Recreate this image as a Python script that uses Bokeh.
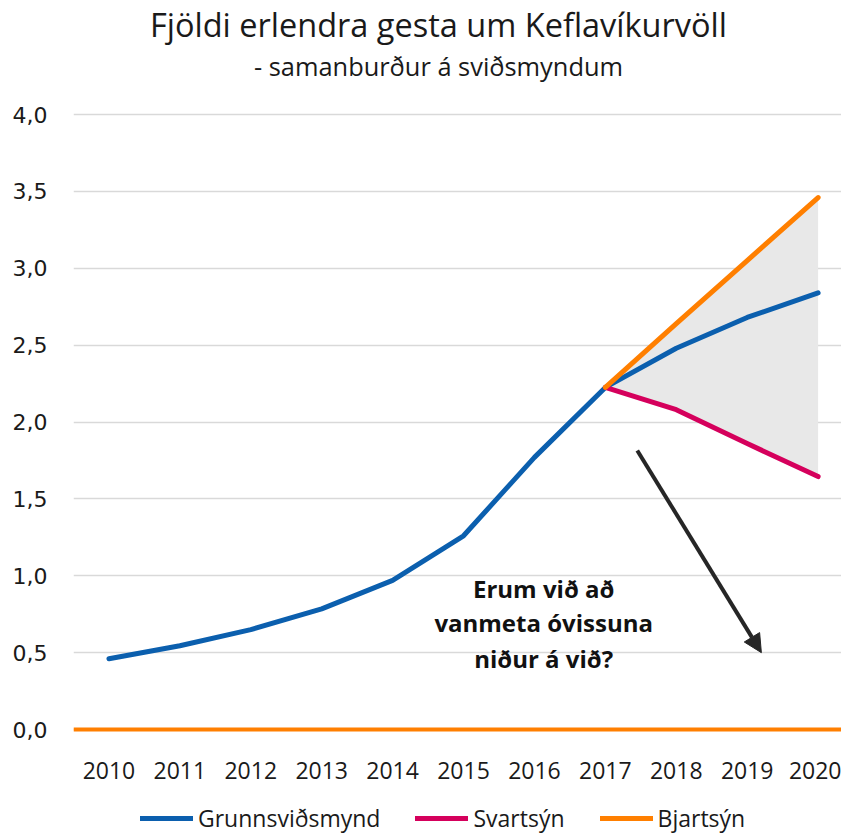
from bokeh.plotting import figure
from bokeh.layouts import column
from bokeh.models import (Range1d, FixedTicker, Span, Label, Legend, LegendItem, Arrow, NormalHead)
from bokeh.core.properties import value
from bokeh.embed import file_html
from bokeh.resources import INLINE

# ---- data ----
years = [2010, 2011, 2012, 2013, 2014, 2015, 2016, 2017, 2018, 2019, 2020]
grunn = [0.46, 0.545, 0.65, 0.785, 0.97, 1.26, 1.77, 2.225, 2.48, 2.68, 2.84]
scen_years = [2017, 2018, 2019, 2020]
svart = [2.225, 2.08, 1.86, 1.645]
bjart = [2.225, 2.64, 3.05, 3.46]
y_ticks = [0.0, 0.5, 1.0, 1.5, 2.0, 2.5, 3.0, 3.5, 4.0]
y_tick_labels = ["0,0", "0,5", "1,0", "1,5", "2,0", "2,5", "3,0", "3,5", "4,0"]
x_tick_labels = [str(y) for y in years]
series_names = ["Grunnsviðsmynd", "Svartsýn", "Bjartsýn"]
title_text = "Fjöldi erlendra gesta um Keflavíkurvöll"
subtitle_text = "- samanburður á sviðsmyndum"
note_lines = ["Erum við að", "vanmeta óvissuna", "niður á við?"]
note_x = 2016.13
note_y = [0.915, 0.695, 0.462]
arrow_start = (2017.45, 1.815)
arrow_end = (2019.2, 0.50)

BLUE = "#0B5FAE"
PINK = "#D5005C"
ORANGE = "#FF7F00"
COLORS = [BLUE, PINK, ORANGE]
FONT = "Open Sans"

p = figure(width=841, height=795,
           x_range=Range1d(2009.5, 2020.33), y_range=Range1d(-0.039, 4.7415),
           min_border_left=73, min_border_right=0, min_border_top=0, min_border_bottom=60,
           output_backend="svg", toolbar_location=None)
p.outline_line_color = None
p.background_fill_color = "white"
p.border_fill_color = "white"

p.xgrid.grid_line_color = None
p.ygrid.grid_line_color = "#D9D9D9"
p.ygrid.grid_line_width = 1.5

p.yaxis.ticker = FixedTicker(ticks=y_ticks)
p.yaxis.major_label_overrides = {t: l for t, l in zip(y_ticks, y_tick_labels)}
p.xaxis.ticker = FixedTicker(ticks=years)
p.xaxis.major_label_overrides = {y: l for y, l in zip(years, x_tick_labels)}
for ax in (p.xaxis, p.yaxis):
    ax.axis_line_color = None
    ax.major_tick_line_color = None
    ax.minor_tick_line_color = None
    ax.major_label_text_color = "#1A1A1A"
p.yaxis.major_label_text_font = "DejaVu Sans"
p.yaxis.major_label_text_font_size = "22px"
p.yaxis.major_label_standoff = 20
p.xaxis.major_label_text_font = FONT
p.xaxis.major_label_text_font_size = "23px"
p.xaxis.major_label_standoff = 20

# shaded uncertainty band
p.varea(x=scen_years, y1=svart, y2=bjart, fill_color="#E8E8E8")

# zero line (orange)
p.add_layout(Span(location=0, dimension="width", line_color=ORANGE, line_width=4))

p.line(years, grunn, line_color=BLUE, line_width=5, line_cap="round", line_join="round")
p.line(scen_years, svart, line_color=PINK, line_width=5, line_cap="round", line_join="round")
p.line(scen_years, bjart, line_color=ORANGE, line_width=5, line_cap="round", line_join="round")

# arrow
p.add_layout(Arrow(x_start=arrow_start[0], y_start=arrow_start[1], x_end=arrow_end[0], y_end=arrow_end[1],
                   line_color="#262626", line_width=4,
                   end=NormalHead(size=18, fill_color="#262626", line_color="#262626")))

# annotation text
p.text(x=[note_x] * 3, y=note_y, text=note_lines, text_align="center", text_baseline="middle",
       text_font=value(FONT), text_font_style="bold", text_font_size="24px", text_color="#111111")

# titles (inside the frame's blank top strip)
p.add_layout(Label(x=365, y=711, x_units="screen", y_units="screen", text=title_text,
                   text_align="center", text_baseline="middle", text_font=FONT,
                   text_font_size="32.5px", text_color="#1A1A1A"))
p.add_layout(Label(x=365, y=670, x_units="screen", y_units="screen", text=subtitle_text,
                   text_align="center", text_baseline="middle", text_font=FONT,
                   text_font_size="25.4px", text_color="#1A1A1A"))

# legend strip below the chart (proxy lines lie outside its visible range)
lg = figure(width=841, height=38, x_range=Range1d(0, 1), y_range=Range1d(0, 1),
            min_border_left=0, min_border_right=0, min_border_top=0, min_border_bottom=0,
            x_axis_location=None, y_axis_location=None,
            output_backend="svg", toolbar_location=None)
lg.outline_line_color = None
lg.grid.grid_line_color = None
items = []
for name, col in zip(series_names, COLORS):
    r = lg.line([5, 6], [5, 5], line_color=col, line_width=5, line_cap="round")
    items.append(LegendItem(label=name, renderers=[r]))
legend = Legend(items=items, location=(67, -1), orientation="horizontal",
                glyph_width=53, glyph_height=20, label_standoff=5, spacing=35,
                padding=0, margin=0, border_line_color=None, background_fill_alpha=0,
                label_text_font=FONT, label_text_font_size="23px", label_text_color="#1A1A1A")
lg.add_layout(legend, "center")

layout = column(p, lg, spacing=0)
open("out.html", "w").write(file_html(layout, INLINE))
